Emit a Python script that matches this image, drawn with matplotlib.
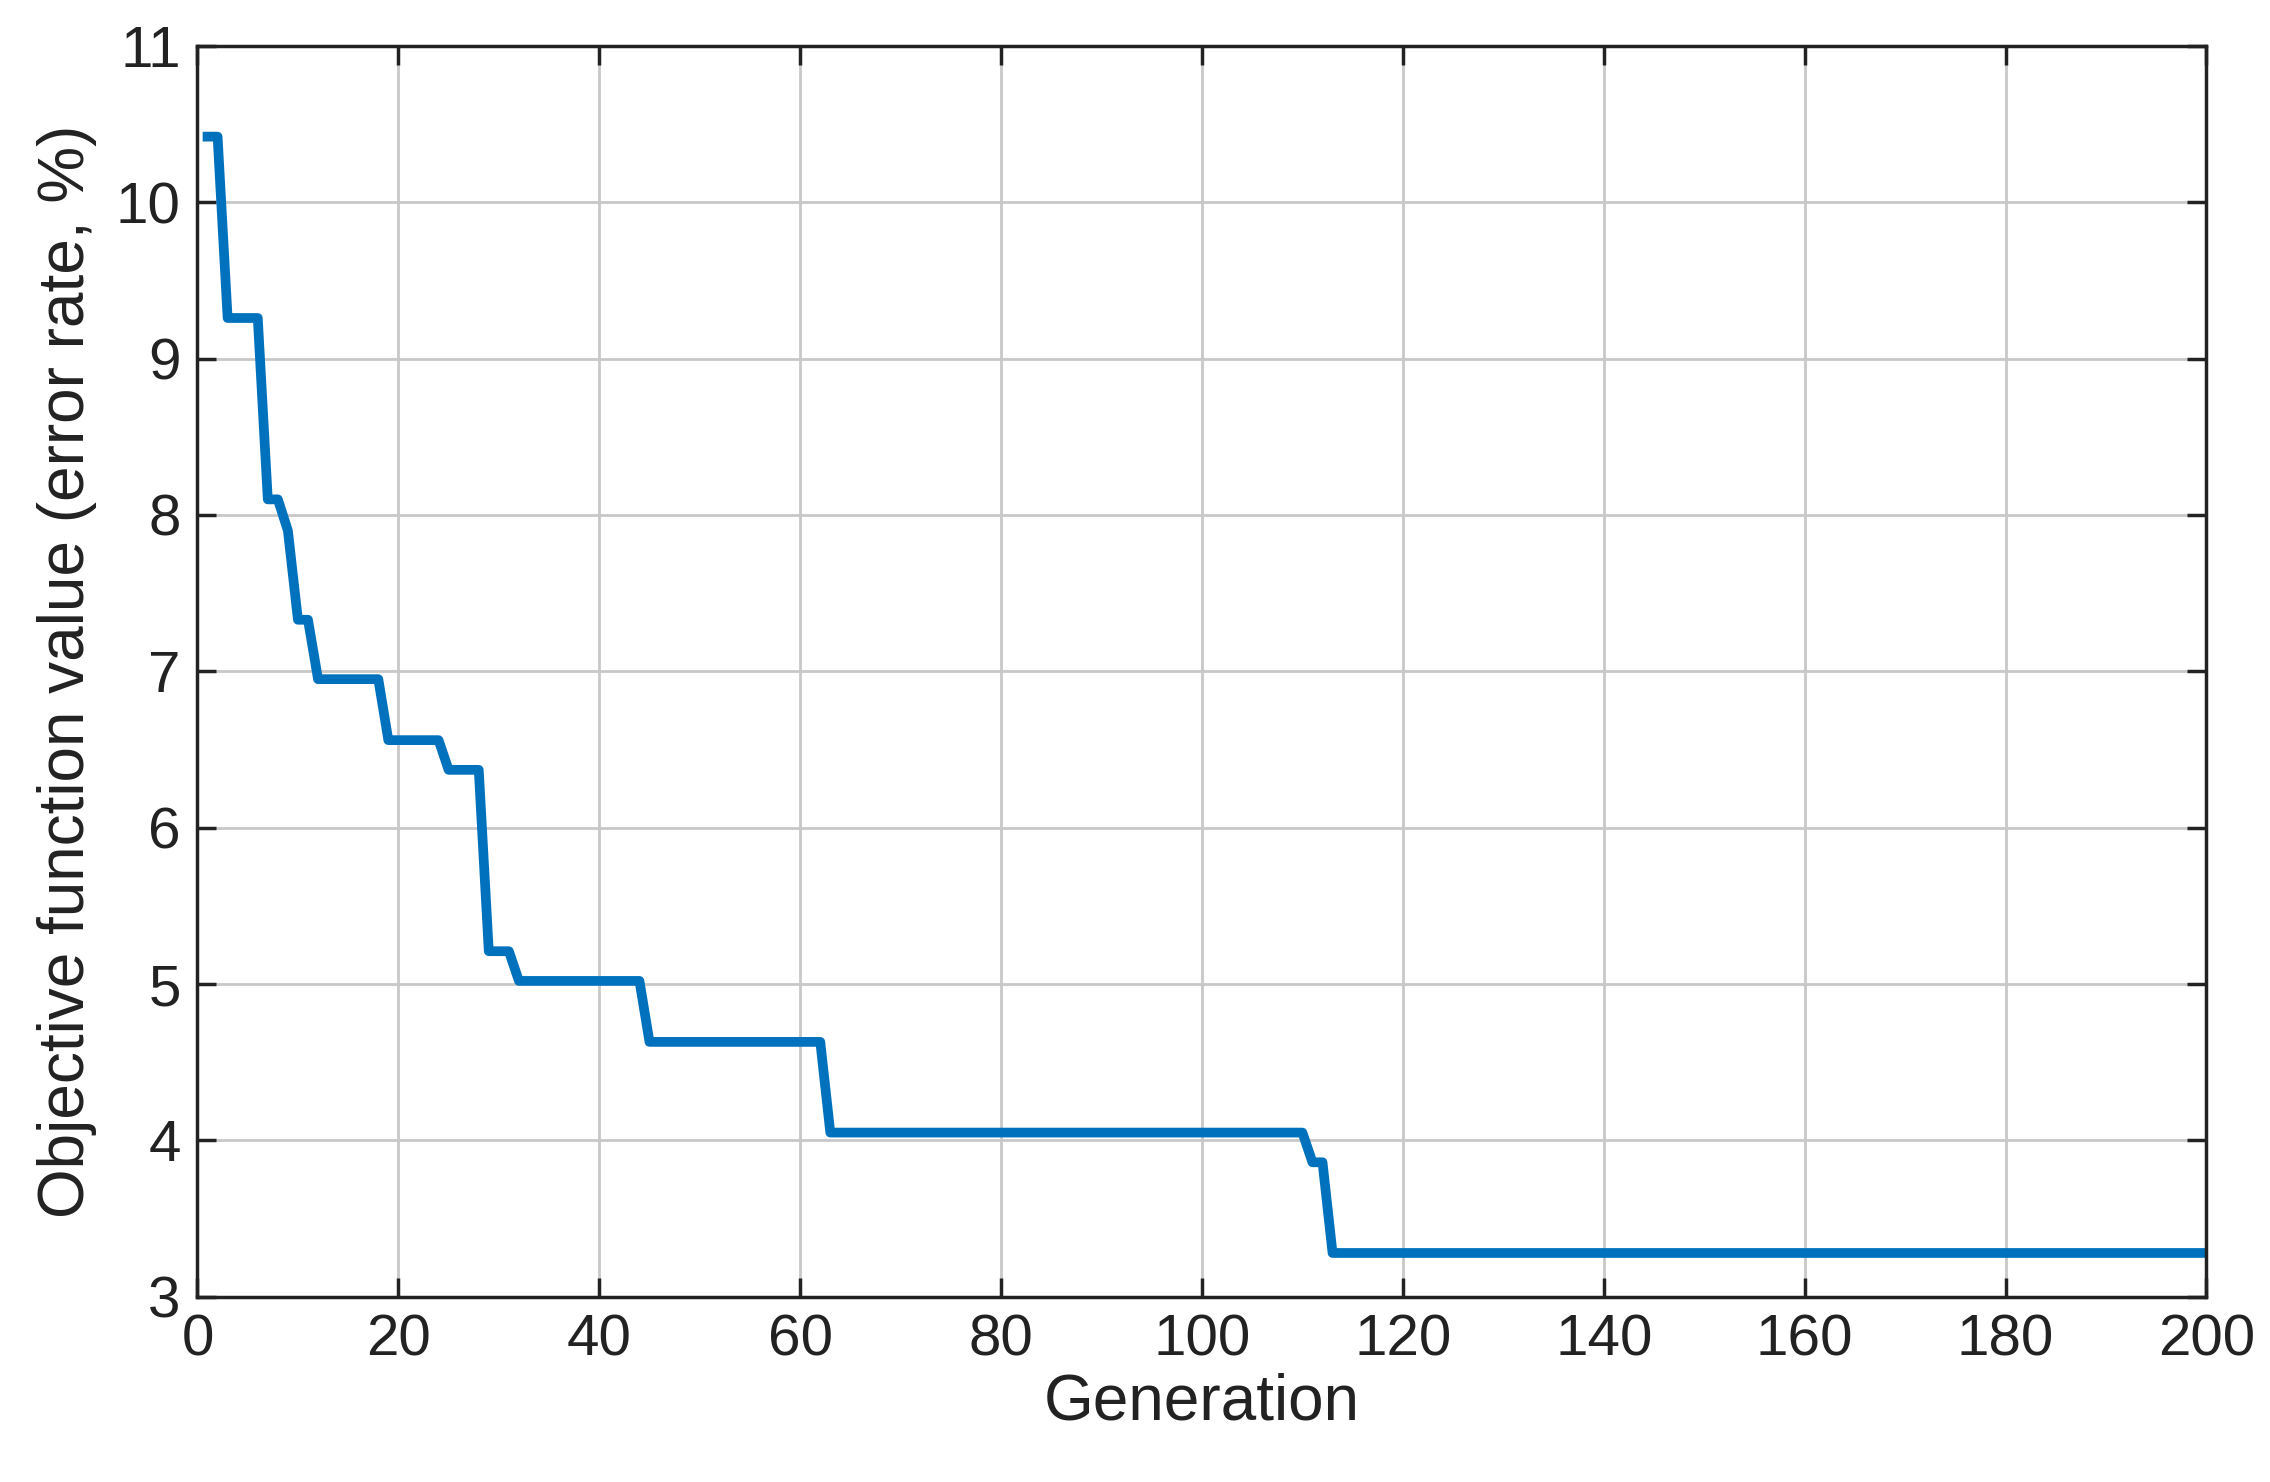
import matplotlib
matplotlib.use("Agg")
from matplotlib import pyplot as plt

# vertices of the convergence curve (generation, objective value %)
generation = [1, 2, 3, 6, 7, 8, 9, 10, 11, 12, 18, 19, 24, 25, 28, 29, 31, 32, 44, 45, 62, 63, 110, 111, 112, 113, 200]
error_rate = [10.42, 10.42, 9.26, 9.26, 8.1, 8.1, 7.9, 7.33, 7.33, 6.95, 6.95, 6.56, 6.56, 6.37, 6.37, 5.21, 5.21, 5.02, 5.02,
              4.63, 4.63, 4.05, 4.05, 3.86, 3.86, 3.28, 3.28]

plt.rcParams['font.family'] = ['Liberation Sans', 'DejaVu Sans']

fig = plt.figure(figsize=(22.7, 14.82), dpi=100)
ax = fig.add_axes([0.087, 0.125, 0.885, 0.844])

ax.plot(generation, error_rate, color='#0072BD', linewidth=7)

ax.set_xlim(0, 200)
ax.set_ylim(3, 11)
ax.set_xticks(range(0, 201, 20))
ax.set_yticks(range(3, 12))
ax.grid(True, color='#c8c8c8', linewidth=2)
ax.tick_params(direction='in', length=14, width=2.5, labelsize=42, colors='#222222',
               top=True, right=True, pad=12)
for s in ax.spines.values():
    s.set_linewidth(2.5)
    s.set_color('#222222')

ax.set_xlabel('Generation', fontsize=46, color='#222222', labelpad=4)
ax.set_ylabel('Objective function value (error rate, %)', fontsize=46, color='#222222', labelpad=14)

fig.savefig('out.png', dpi=100, facecolor='white')
